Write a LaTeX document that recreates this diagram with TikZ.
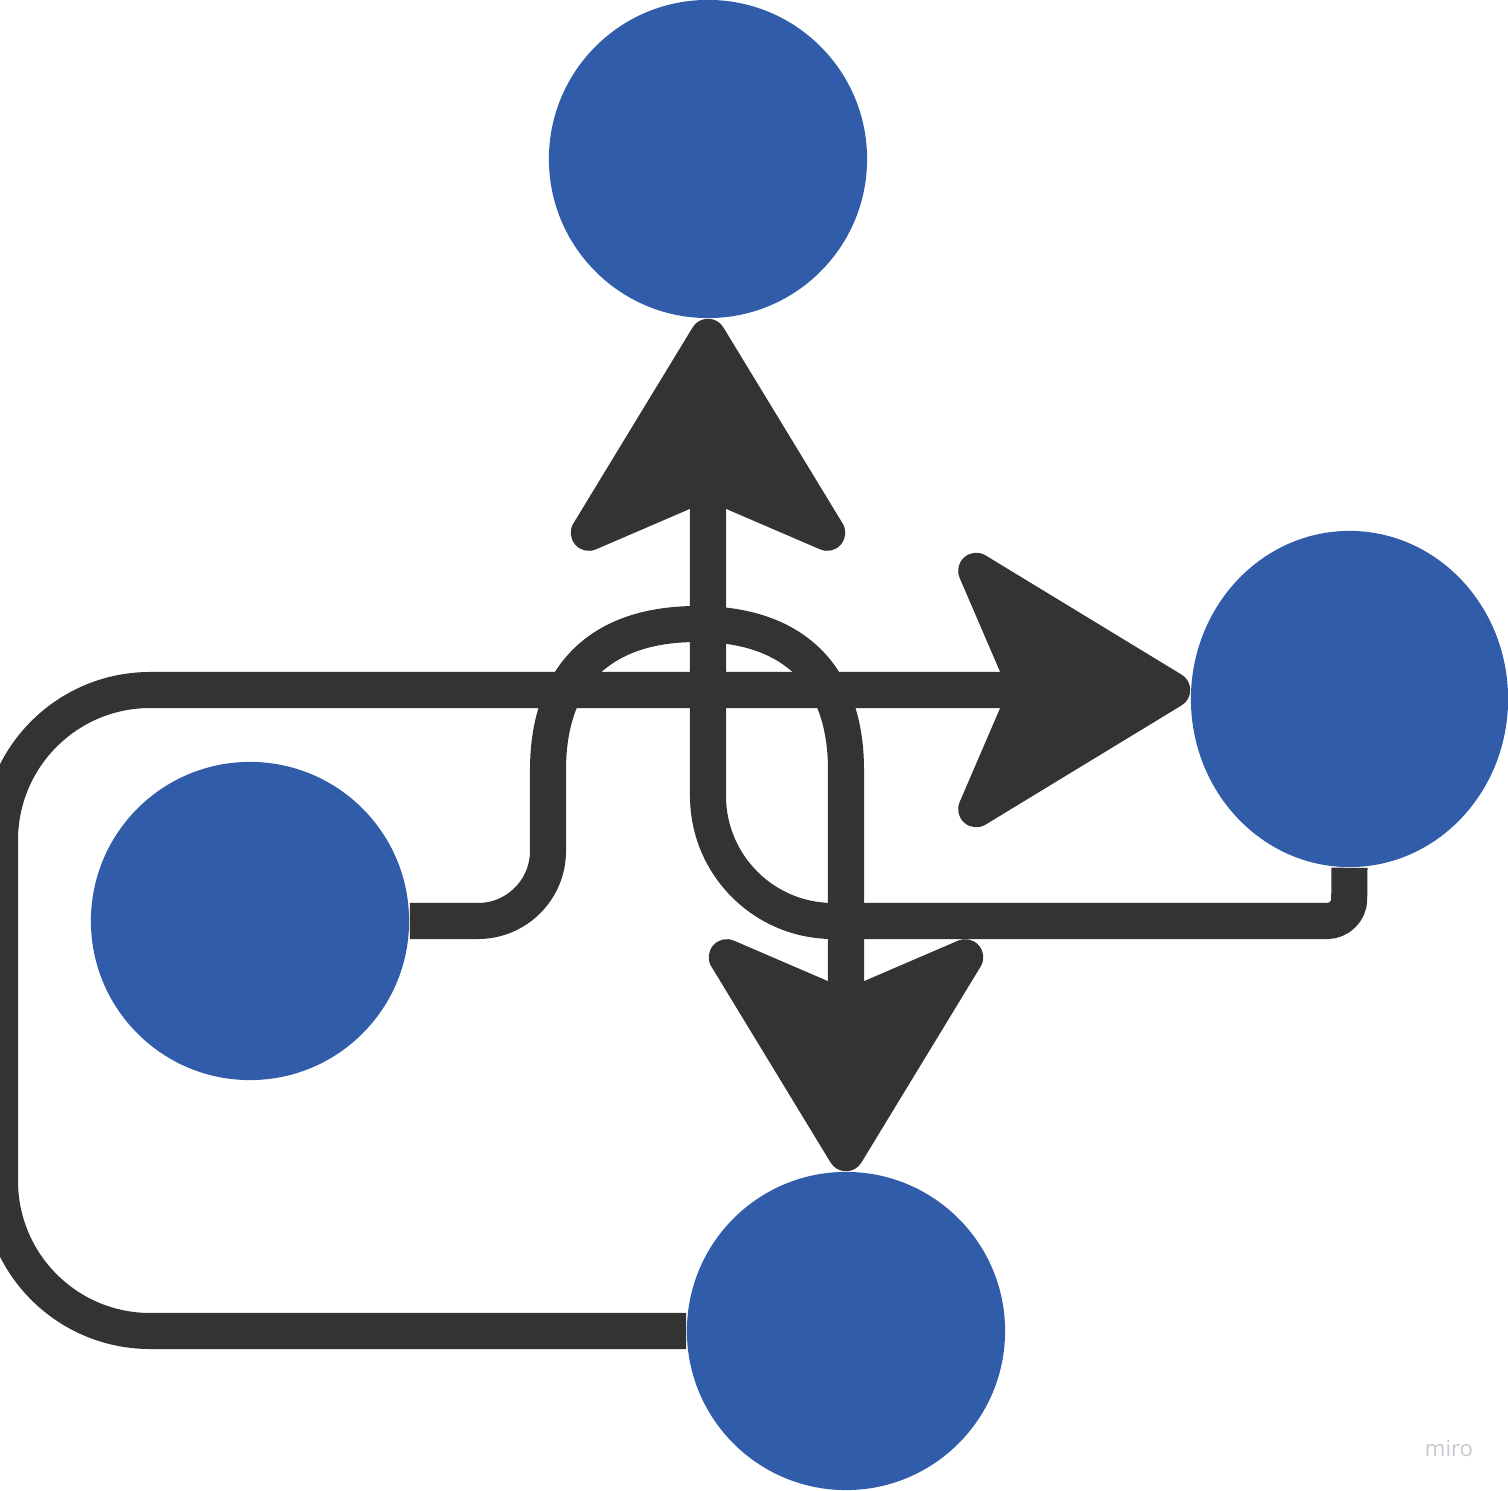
\documentclass[tikz,border=0pt]{standalone}
\usepackage{fontspec}
\usepackage{xcolor}
\usepackage{tikz}
\usetikzlibrary{arrows.meta,positioning,calc,shapes.geometric}
\newfontfamily\miroFont{Open Sans}
\definecolor{dotblue}{RGB}{49,92,170}
\definecolor{wire}{RGB}{51,51,51}

\begin{document}
\begin{tikzpicture}[x=0.01cm,y=-0.01cm,
  dot/.style={circle,fill=dotblue,minimum size=3.18cm,inner sep=0pt},
  link/.style={draw=wire,line width=0.36cm},
  head/.style={-{Stealth[length=2.67cm,width=3.22cm,inset=0.68cm,round,line width=0.36cm]}}]
\useasboundingbox (0,0) rectangle (1508,1491);
% Four stations, links drawn underneath.
\node[dot] (ctop) at (708,159) {};
\node[dot,ellipse,minimum width=3.17cm,minimum height=3.36cm] (cright) at (1349.5,699) {};
\node[dot] (cleft) at (250,921) {};
\node[dot] (cbot) at (846,1331) {};
\draw[link,head,rounded corners=1.5cm] (cbot.west) -| (0,690) -- (cright.west |- 0,690);
\draw[link,head] (cright.south) [rounded corners=0.22cm] -- (1349,921) [rounded corners=1.25cm] -- (708,921) -- (ctop.south);
\draw[link,head] (cleft.east) [rounded corners=0.7cm] -- (548,921) [sharp corners] -- (548,770)
  to[out=90,in=180,looseness=1.17] (697,624) to[out=0,in=90,looseness=1.17] (846,770) -- (cbot.north);
\node[text={rgb,255:red,200;green,200;blue,210},font=\miroFont\fontsize{6.3}{7}\selectfont] (wm) at (1449,1448) {miro};
\end{tikzpicture}
\end{document}
